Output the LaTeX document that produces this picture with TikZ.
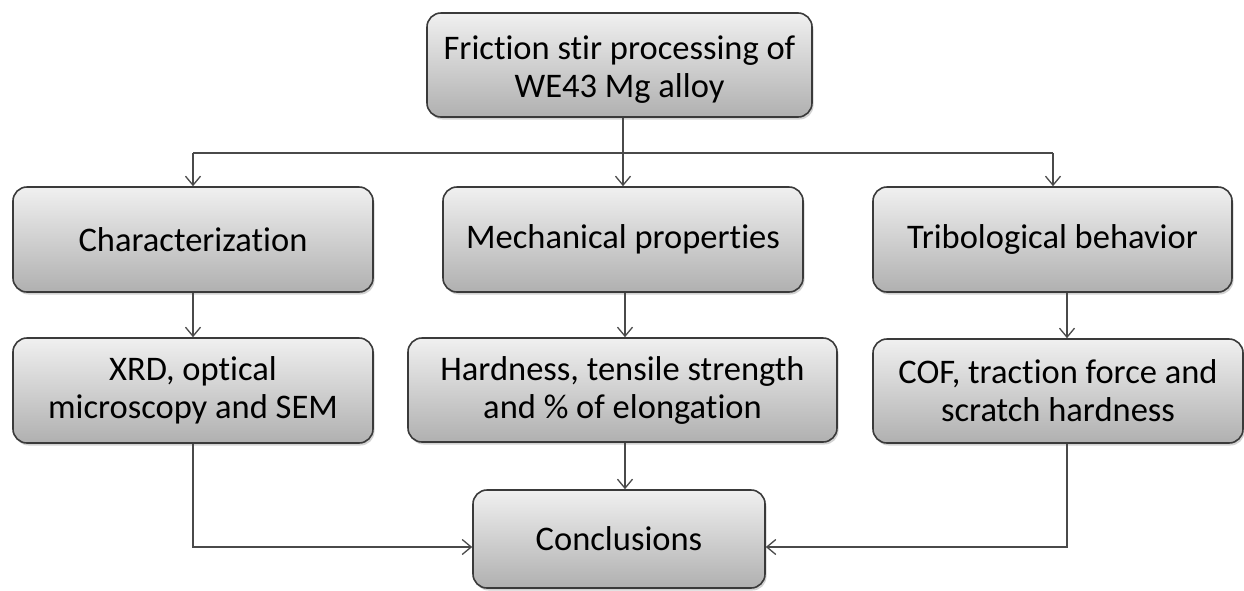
\documentclass[tikz,border=0pt]{standalone}
\usepackage{fontspec}
\setmainfont[Ligatures={NoCommon}]{Carlito}
\usetikzlibrary{arrows.meta,shadows}
\definecolor{boxtop}{HTML}{F0F0F0}
\definecolor{boxbot}{HTML}{B0B0B0}
\definecolor{edgec}{HTML}{3A3A3A}
\definecolor{linec}{HTML}{4A4A4A}
\begin{document}
\begin{tikzpicture}[x=1pt,y=-1pt,
  boxnode/.style={draw=edgec, line width=1.6pt, rounded corners=14pt,
    top color=boxtop, bottom color=boxbot, align=center, inner sep=0pt,
    font=\fontsize{34.5}{38}\selectfont,
    drop shadow={opacity=0.35, shadow xshift=1.5pt, shadow yshift=-2.5pt}},
  conn/.style={draw=linec, line width=1.4pt, -{Straight Barb[length=9pt,width=15pt,line width=1.3pt]}},
  plain/.style={draw=linec, line width=1.4pt}]
\useasboundingbox (0,0) rectangle (1244,590);
\fill[white] (0,0) rectangle (1244,590);

\node[boxnode, minimum width=385pt, minimum height=104pt] (top) at (619.5,65) {\raisebox{-6pt}[\height][\depth]{\begin{tabular}{@{}c@{}}Friction stir processing of\\WE43 Mg alloy\end{tabular}}};
\node[boxnode, minimum width=360pt, minimum height=105pt] (char) at (193,239.5) {Characterization};
\node[boxnode, minimum width=360pt, minimum height=105pt] (mech) at (623,239.5) {Mechanical properties};
\node[boxnode, minimum width=359pt, minimum height=105pt] (trib) at (1052.5,239.5) {Tribological behavior};
\node[boxnode, minimum width=360pt, minimum height=105pt] (xrd) at (193,390.5) {XRD, optical\\microscopy and SEM};
\node[boxnode, minimum width=429pt, minimum height=104pt] (hard) at (622.5,390) {Hardness, tensile strength\\and \% of elongation};
\node[boxnode, minimum width=370pt, minimum height=104pt] (cof) at (1058,391) {COF, traction force and\\scratch hardness};
\node[boxnode, minimum width=292pt, minimum height=98pt] (concl) at (619,539) {Conclusions};

\coordinate (hl) at (0,153);
\coordinate (tx) at (1053,0);
\coordinate (cx) at (1067,0);
\coordinate (ax) at (625,0);
\coordinate (ay) at (0,547);

\draw[conn] (top.south -| mech.north) -- (mech.north);
\draw[plain] (char.north |- hl) -- (tx |- hl);
\draw[conn] (char.north |- hl) -- (char.north);
\draw[conn] (tx |- hl) -- (tx |- trib.north);
\draw[conn] (char.south) -- (xrd.north);
\draw[conn] (mech.south -| ax) -- (hard.north -| ax);
\draw[conn] (trib.south -| cx) -- (cof.north -| cx);
\draw[conn] (hard.south -| ax) -- (concl.north -| ax);
\draw[conn] (xrd.south) |- (concl.west |- ay);
\draw[conn] (cof.south -| cx) |- (concl.east |- ay);
\end{tikzpicture}
\end{document}
